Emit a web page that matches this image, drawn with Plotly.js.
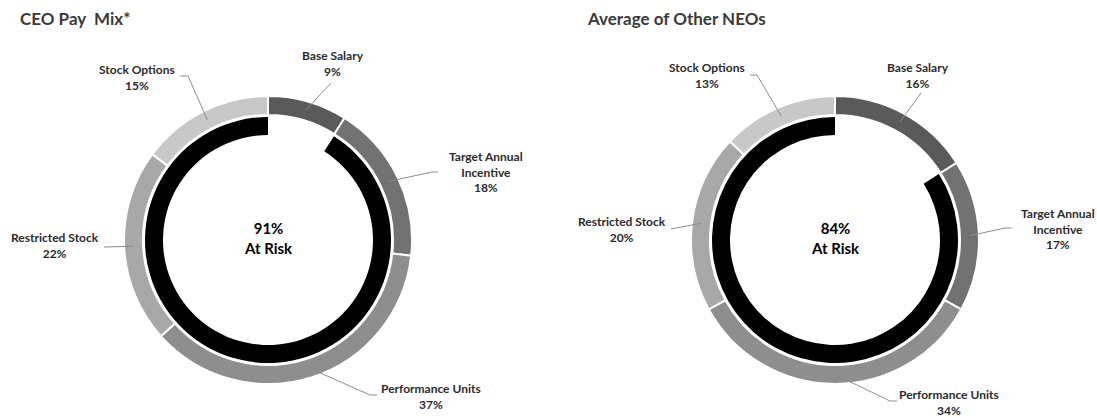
<!DOCTYPE html>
<html>
<head>
<meta charset="utf-8">
<script src="https://cdn.plot.ly/plotly-3.0.1.min.js"></script>
<style>
  html, body { margin: 0; padding: 0; background: #ffffff; }
  #chart { width: 1097px; height: 418px; }
</style>
</head>
<body>
<div id="chart"></div>
<script>
// Pay mix data (percent of target pay)
const components = ['Base Salary', 'Target Annual Incentive', 'Performance Units', 'Restricted Stock', 'Stock Options'];
const componentLabels = ['Base Salary', 'Target Annual<br>Incentive', 'Performance Units', 'Restricted Stock', 'Stock Options'];
const ceoMix = [9, 18, 37, 22, 15];
const neoMix = [16, 17, 34, 20, 13];
const atRisk = [91, 84];
const panelTitles = ['CEO Pay  Mix*', 'Average of Other NEOs'];

const componentColors = ['#5a5a5a', '#727272', '#8e8e8e', '#a8a8a8', '#c8c8c8'];

const W = 1097, H = 418;
const FONT = 'Lato, "Open Sans", sans-serif';
const px = x => x / W;
const py = y => 1 - y / H;

// Layout of each panel (pixels): ring centre/size, title spot, label spots
const panels = [
  {
    mix: ceoMix, risk: atRisk[0], title: panelTitles[0],
    cx: 268, cy: 240, r: 144, titleX: 18,
    labels: [
      { tx: 333, ty: 63, lx: 331, ly: 83 },
      { tx: 486, ty: 172, lx: 432, ly: 172, tail: 438 },
      { tx: 431, ty: 396, lx: 370, ly: 395, tail: 377 },
      { tx: 55, ty: 246, lx: 104, ly: 247 },
      { tx: 137, ty: 77, lx: 188, ly: 76, tail: 180 }
    ]
  },
  {
    mix: neoMix, risk: atRisk[1], title: panelTitles[1],
    cx: 835, cy: 240, r: 144, titleX: 585,
    labels: [
      { tx: 918, ty: 75, lx: 921, ly: 93 },
      { tx: 1058, ty: 229, lx: 1005, ly: 228, tail: 1012 },
      { tx: 949, ty: 402, lx: 890, ly: 401, tail: 897 },
      { tx: 622, ty: 229, lx: 671, ly: 229 },
      { tx: 707, ty: 75, lx: 757, ly: 75, tail: 750 }
    ]
  }
];

const RING = 19;      // outer ring thickness
const GAP = 2;        // white gap between rings
const INNER = 18;     // at-risk ring thickness

const traces = [];
const annotations = [];
const shapes = [];

panels.forEach(p => {
  const outerDomain = {
    x: [px(p.cx - p.r), px(p.cx + p.r)],
    y: [py(p.cy + p.r), py(p.cy - p.r)]
  };
  traces.push({
    type: 'pie',
    values: p.mix,
    labels: components,
    sort: false,
    direction: 'clockwise',
    rotation: 0,
    hole: (p.r - RING) / p.r,
    domain: outerDomain,
    marker: { colors: componentColors, line: { color: '#ffffff', width: 2 } },
    textinfo: 'none',
    hoverinfo: 'none',
    showlegend: false
  });

  const ri = p.r - RING - GAP;
  traces.push({
    type: 'pie',
    values: [100 - p.risk, p.risk],
    labels: ['Fixed', 'At Risk'],
    sort: false,
    direction: 'clockwise',
    rotation: 0,
    hole: (ri - INNER) / ri,
    domain: {
      x: [px(p.cx - ri), px(p.cx + ri)],
      y: [py(p.cy + ri), py(p.cy - ri)]
    },
    marker: { colors: ['rgba(0,0,0,0)', '#000000'], line: { width: 0 } },
    textinfo: 'none',
    hoverinfo: 'none',
    showlegend: false
  });

  // centre text
  annotations.push({
    xref: 'paper', yref: 'paper',
    x: px(p.cx), y: py(p.cy - 2),
    text: `${p.risk}%<br>At Risk`,
    showarrow: false,
    font: { family: FONT, size: 15, color: '#000000', weight: 'bold' },
    xanchor: 'center', yanchor: 'middle'
  });

  // panel title
  annotations.push({
    xref: 'paper', yref: 'paper',
    x: px(p.titleX), y: py(19),
    text: p.title,
    showarrow: false,
    font: { family: FONT, size: 17, color: '#3a3a3a', weight: 'bold' },
    xanchor: 'left', yanchor: 'middle'
  });

  // slice labels with leader lines from the ring's mid-angle
  const total = p.mix.reduce((a, b) => a + b, 0);
  let cum = 0;
  p.mix.forEach((v, i) => {
    const mid = (cum + v / 2) / total * 2 * Math.PI;
    cum += v;
    const rm = p.r - RING / 2;
    const ax = p.cx + rm * Math.sin(mid);
    const ay = p.cy - rm * Math.cos(mid);
    const L = p.labels[i];

    shapes.push({
      type: 'line', xref: 'paper', yref: 'paper',
      x0: px(ax), y0: py(ay), x1: px(L.lx), y1: py(L.ly),
      line: { color: '#8c8c8c', width: 1 }
    });
    if (L.tail !== undefined) {
      shapes.push({
        type: 'line', xref: 'paper', yref: 'paper',
        x0: px(L.lx), y0: py(L.ly), x1: px(L.tail), y1: py(L.ly),
        line: { color: '#8c8c8c', width: 1 }
      });
    }

    annotations.push({
      xref: 'paper', yref: 'paper',
      x: px(L.tx), y: py(L.ty),
      text: `${componentLabels[i]}<br>${v}%`,
      showarrow: false,
      font: { family: FONT, size: 12, color: '#2b2b2b', weight: 'bold' },
      xanchor: 'center', yanchor: 'middle'
    });
  });
});

const layout = {
  width: W,
  height: H,
  margin: { l: 0, r: 0, t: 0, b: 0 },
  paper_bgcolor: '#ffffff',
  plot_bgcolor: '#ffffff',
  showlegend: false,
  annotations: annotations,
  shapes: shapes
};

Plotly.newPlot('chart', traces, layout, { displayModeBar: false, staticPlot: true });
</script>
</body>
</html>
